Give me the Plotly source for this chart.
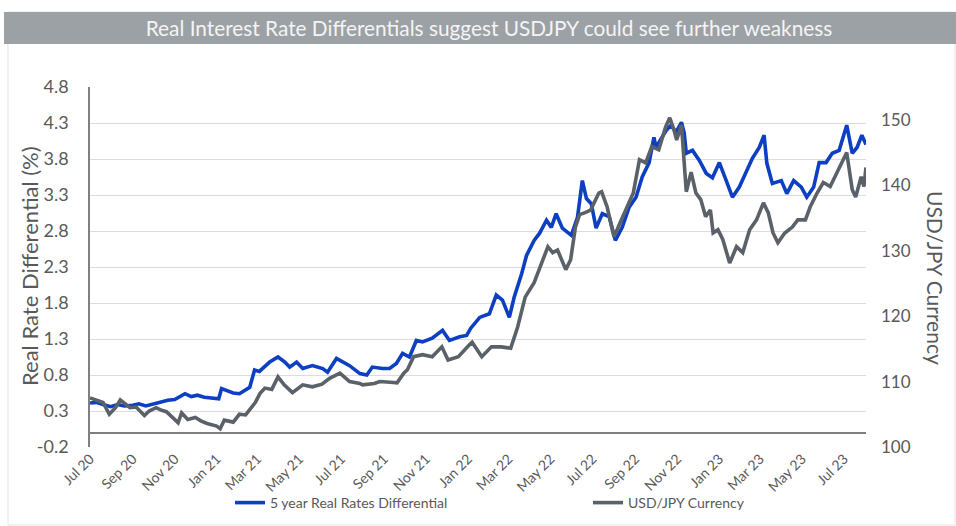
import plotly.graph_objects as go

# ---------------- data ----------------
rate_dates = [
    "2020-07-01", "2020-07-10", "2020-07-20", "2020-07-31", "2020-08-10", "2020-08-20",
    "2020-09-01", "2020-09-10", "2020-09-20", "2020-10-01", "2020-10-12", "2020-10-22",
    "2020-11-01", "2020-11-10", "2020-11-16", "2020-11-25", "2020-12-04", "2020-12-14",
    "2020-12-24", "2021-01-04", "2021-01-08", "2021-01-15", "2021-01-25", "2021-02-03",
    "2021-02-10", "2021-02-18", "2021-02-25", "2021-03-04", "2021-03-12", "2021-03-19",
    "2021-03-31", "2021-04-10", "2021-04-17", "2021-04-27", "2021-05-06", "2021-05-20",
    "2021-06-04", "2021-06-11", "2021-06-24", "2021-07-03", "2021-07-13", "2021-07-28",
    "2021-08-07", "2021-08-15", "2021-08-30", "2021-09-09", "2021-09-19", "2021-09-28",
    "2021-10-08", "2021-10-18", "2021-10-27", "2021-11-10", "2021-11-25", "2021-12-05",
    "2021-12-20", "2021-12-30", "2022-01-05", "2022-01-18", "2022-02-01", "2022-02-11",
    "2022-02-20", "2022-03-02", "2022-03-09", "2022-03-20", "2022-03-27", "2022-04-07",
    "2022-04-15", "2022-04-25", "2022-05-02", "2022-05-09", "2022-05-18", "2022-05-31",
    "2022-06-09", "2022-06-16", "2022-06-22", "2022-06-29", "2022-07-06", "2022-07-15",
    "2022-07-25", "2022-08-03", "2022-08-13", "2022-08-23", "2022-09-02", "2022-09-11",
    "2022-09-21", "2022-09-28", "2022-10-01", "2022-10-09", "2022-10-16", "2022-10-23",
    "2022-10-30", "2022-11-07", "2022-11-11", "2022-11-14", "2022-11-23", "2022-12-03",
    "2022-12-13", "2022-12-22", "2023-01-01", "2023-01-11", "2023-01-20", "2023-01-30",
    "2023-02-09", "2023-02-18", "2023-02-28", "2023-03-07", "2023-03-11", "2023-03-19",
    "2023-04-01", "2023-04-09", "2023-04-19", "2023-04-30", "2023-05-08", "2023-05-18",
    "2023-05-26", "2023-06-05", "2023-06-14", "2023-06-24", "2023-07-05", "2023-07-13",
    "2023-07-20", "2023-07-27", "2023-08-02",
]
rate_values = [
    0.41, 0.42, 0.39, 0.36, 0.39, 0.37,
    0.38, 0.40, 0.37, 0.40, 0.43, 0.45,
    0.46, 0.50, 0.54, 0.50, 0.52, 0.49,
    0.48, 0.47, 0.61, 0.58, 0.55, 0.54,
    0.58, 0.63, 0.87, 0.85, 0.92, 0.98,
    1.05, 0.98, 0.91, 0.98, 0.89, 0.93,
    0.89, 0.84, 1.03, 0.98, 0.93, 0.82,
    0.80, 0.91, 0.89, 0.89, 0.96, 1.10,
    1.05, 1.28, 1.26, 1.31, 1.42, 1.28,
    1.33, 1.35, 1.45, 1.60, 1.65, 1.91,
    1.84, 1.60, 1.88, 2.21, 2.46, 2.67,
    2.77, 2.95, 2.85, 3.04, 2.84, 2.74,
    2.99, 3.50, 3.25, 3.18, 2.84, 3.04,
    3.00, 2.67, 2.85, 3.13, 3.27, 3.55,
    3.75, 4.10, 3.96, 4.09, 4.20, 4.27,
    4.17, 4.31, 4.16, 3.88, 3.92, 3.78,
    3.60, 3.54, 3.75, 3.50, 3.27, 3.41,
    3.62, 3.81, 3.96, 4.13, 3.74, 3.46,
    3.50, 3.32, 3.50, 3.41, 3.27, 3.41,
    3.75, 3.75, 3.88, 3.92, 4.27, 3.88,
    3.96, 4.13, 4.00,
]

fx_dates = [
    "2020-07-01", "2020-07-10", "2020-07-20", "2020-07-29", "2020-08-07", "2020-08-14",
    "2020-08-28", "2020-09-06", "2020-09-18", "2020-09-25", "2020-10-05", "2020-10-13",
    "2020-10-20", "2020-11-06", "2020-11-11", "2020-11-20", "2020-12-01", "2020-12-09",
    "2020-12-18", "2021-01-01", "2021-01-06", "2021-01-12", "2021-01-25", "2021-02-03",
    "2021-02-12", "2021-02-18", "2021-02-26", "2021-03-05", "2021-03-12", "2021-03-22",
    "2021-03-31", "2021-04-09", "2021-04-21", "2021-05-06", "2021-05-20", "2021-06-03",
    "2021-06-14", "2021-06-29", "2021-07-13", "2021-07-28", "2021-08-01", "2021-08-18",
    "2021-08-26", "2021-09-10", "2021-09-20", "2021-09-30", "2021-10-05", "2021-10-14",
    "2021-10-27", "2021-11-10", "2021-11-24", "2021-12-03", "2021-12-18", "2022-01-03",
    "2022-01-07", "2022-01-21", "2022-02-04", "2022-02-18", "2022-03-04", "2022-03-14",
    "2022-03-25", "2022-04-07", "2022-04-18", "2022-04-27", "2022-05-04", "2022-05-11",
    "2022-05-23", "2022-05-30", "2022-06-06", "2022-06-12", "2022-06-20", "2022-06-28",
    "2022-07-10", "2022-07-14", "2022-07-22", "2022-08-01", "2022-08-10", "2022-08-20",
    "2022-08-29", "2022-09-07", "2022-09-16", "2022-09-25", "2022-10-05", "2022-10-15",
    "2022-10-21", "2022-10-27", "2022-10-31", "2022-11-07", "2022-11-11", "2022-11-14",
    "2022-11-21", "2022-11-28", "2022-12-05", "2022-12-12", "2022-12-19", "2022-12-23",
    "2022-12-30", "2023-01-06", "2023-01-16", "2023-01-26", "2023-02-04", "2023-02-14",
    "2023-02-24", "2023-03-06", "2023-03-13", "2023-03-20", "2023-03-27", "2023-04-06",
    "2023-04-17", "2023-04-25", "2023-05-06", "2023-05-13", "2023-05-23", "2023-06-01",
    "2023-06-11", "2023-06-21", "2023-07-02", "2023-07-05", "2023-07-13", "2023-07-18",
    "2023-07-26", "2023-07-30", "2023-08-02",
]
fx_values = [
    107.5, 107.2, 106.8, 105.0, 106.0, 107.2,
    106.0, 106.1, 104.8, 105.5, 106.0, 105.6,
    105.4, 103.7, 105.2, 104.2, 104.5, 104.0,
    103.6, 103.2, 102.8, 104.1, 103.8, 105.0,
    104.9, 105.7, 106.8, 108.2, 109.0, 108.8,
    110.7, 109.5, 108.3, 109.5, 109.2, 109.6,
    110.5, 111.3, 110.0, 109.7, 109.5, 109.7,
    110.0, 109.9, 109.8, 111.3, 111.8, 113.8,
    114.1, 113.8, 115.3, 113.3, 113.8, 115.6,
    116.0, 113.8, 115.3, 115.3, 115.1, 118.3,
    122.9, 125.1, 128.1, 130.6, 129.7, 130.1,
    127.1, 128.6, 133.6, 135.5, 135.8, 136.2,
    138.8, 139.0, 136.7, 132.1, 134.3, 136.7,
    138.8, 143.9, 143.4, 145.9, 145.4, 148.9,
    150.3, 148.5, 146.9, 149.2, 142.8, 139.0,
    142.0, 138.8, 137.8, 135.2, 136.2, 132.7,
    133.2, 131.7, 128.1, 130.6, 129.7, 133.2,
    134.7, 137.3, 135.8, 132.7, 131.2, 132.7,
    133.6, 134.7, 134.7, 136.7, 138.8, 140.4,
    139.8, 141.9, 144.3, 145.0, 139.3, 138.2,
    141.3, 139.8, 142.7,
]

tick_dates = [
    "2020-07-01", "2020-09-01", "2020-11-01", "2021-01-01", "2021-03-01", "2021-05-01",
    "2021-07-01", "2021-09-01", "2021-11-01", "2022-01-01", "2022-03-01", "2022-05-01",
    "2022-07-01", "2022-09-01", "2022-11-01", "2023-01-01", "2023-03-01", "2023-05-01",
    "2023-07-01",
]
tick_labels = [
    "Jul 20", "Sep 20", "Nov 20", "Jan 21", "Mar 21", "May 21",
    "Jul 21", "Sep 21", "Nov 21", "Jan 22", "Mar 22", "May 22",
    "Jul 22", "Sep 22", "Nov 22", "Jan 23", "Mar 23", "May 23",
    "Jul 23",
]
rate_ticks = [-0.2, 0.3, 0.8, 1.3, 1.8, 2.3, 2.8, 3.3, 3.8, 4.3, 4.8]
rate_tick_labels = ["-0.2", "0.3", "0.8", "1.3", "1.8", "2.3", "2.8", "3.3", "3.8", "4.3", "4.8"]
fx_ticks = [100, 110, 120, 130, 140, 150]

title_text = "Real Interest Rate Differentials suggest USDJPY could see further weakness"
name_rate = "5 year Real Rates Differential"
name_fx = "USD/JPY Currency"
left_title = "Real Rate Differential (%)"
right_title = "USD/JPY Currency"

# ---------------- figure ----------------
FONT = "Lato, 'Open Sans', sans-serif"
TXT = "#595959"
BLUE = "#0d3fc2"
GREY = "#5b6168"

fig = go.Figure()
fig.add_trace(go.Scatter(
    x=rate_dates, y=rate_values, name=name_rate, mode="lines",
    line=dict(color=BLUE, width=3.6), yaxis="y", legend="legend",
))
fig.add_trace(go.Scatter(
    x=fx_dates, y=fx_values, name=name_fx, mode="lines",
    line=dict(color=GREY, width=3.6), yaxis="y2", legend="legend2",
))

W, H = 956, 526
L, R, T, B = 90, 90, 87, 79
pw, ph = W - L - R, H - T - B


def px_x(px):
    return (px - L) / pw


def px_y(py):
    return (H - B - py) / ph


fig.update_layout(
    width=W, height=H,
    margin=dict(l=L, r=R, t=T, b=B, autoexpand=False),
    paper_bgcolor="white", plot_bgcolor="white",
    font=dict(family=FONT, color=TXT),
    title=dict(
        text=title_text, x=px_x(489), xref="paper", xanchor="center",
        y=1 - 29 / H, yref="container", yanchor="middle",
        font=dict(family=FONT, size=20.8, color="#f4f4f4"),
    ),
    xaxis=dict(
        type="date", range=["2020-07-01", "2023-08-02"], automargin=False,
        tickvals=tick_dates, ticktext=tick_labels, tickangle=-45,
        showgrid=False, zeroline=False, showline=False, ticks="",
        tickfont=dict(size=14, color=TXT),
    ),
    yaxis=dict(
        range=[-0.2, 4.8], tickvals=rate_ticks, ticktext=rate_tick_labels,
        automargin=False,
        showgrid=True, gridcolor="#dcdcdc", gridwidth=1,
        zeroline=True, zerolinecolor="#7f7f7f", zerolinewidth=2,
        showline=True, linecolor="#7f7f7f", linewidth=1.5,
        ticks="", ticklabelstandoff=16,
        tickfont=dict(size=18, color=TXT),
    ),
    yaxis2=dict(
        range=[100, 155], tickvals=fx_ticks, overlaying="y", side="right",
        automargin=False,
        showgrid=False, zeroline=False, showline=False, ticks="",
        ticklabelstandoff=14,
        tickfont=dict(size=17, color=TXT),
    ),
    legend=dict(
        orientation="h", x=px_x(230), y=px_y(503), xanchor="left", yanchor="middle",
        font=dict(size=14, color=TXT), bgcolor="rgba(0,0,0,0)",
    ),
    legend2=dict(
        orientation="h", x=px_x(588), y=px_y(503), xanchor="left", yanchor="middle",
        font=dict(size=14, color=TXT), bgcolor="rgba(0,0,0,0)",
    ),
    annotations=[
        dict(text=left_title, textangle=-90, xref="paper", yref="paper",
             x=px_x(29), y=px_y(266), xanchor="center", yanchor="middle",
             showarrow=False, font=dict(size=22, color=TXT)),
        dict(text=right_title, textangle=90, xref="paper", yref="paper",
             x=px_x(936), y=px_y(278), xanchor="center", yanchor="middle",
             showarrow=False, font=dict(size=21, color=TXT)),
    ],
    shapes=[
        dict(type="rect", xref="paper", yref="paper",
             x0=px_x(8), x1=px_x(955), y0=px_y(525), y1=px_y(12),
             line=dict(color="#e3e3e3", width=1), fillcolor="rgba(0,0,0,0)", layer="below"),
        dict(type="rect", xref="paper", yref="paper",
             x0=px_x(4), x1=px_x(956), y0=px_y(44), y1=px_y(12),
             line=dict(width=0), fillcolor="#9ca1a6", layer="below"),
    ],
    showlegend=True,
)

fig.write_html(
    "out.html",
    config={"displayModeBar": False},
    post_script="document.body.style.margin='0';document.body.style.padding='0';",
)
